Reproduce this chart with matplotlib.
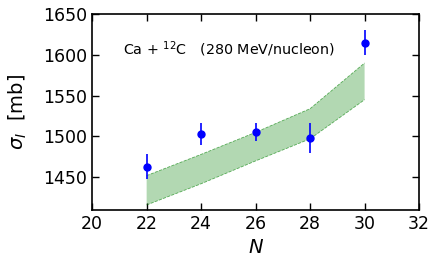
import numpy as np
import matplotlib
matplotlib.use("Agg")
import matplotlib.pyplot as plt

# data
N = [22, 24, 26, 28, 30]
sigma = [1463, 1503, 1505, 1498, 1615]
sigma_err = [15, 13, 11, 18, 15]

band_N = [22, 24, 26, 28, 30]
band_low = [1416, 1442, 1470, 1497, 1545]
band_high = [1452, 1478, 1505, 1534, 1590]

fig = plt.figure(figsize=(4.43, 2.64), dpi=100)
ax = fig.add_axes([0.208, 0.205, 0.738, 0.742])

ax.fill_between(band_N, band_low, band_high, facecolor="green", alpha=0.3,
                edgecolor="none")
ax.plot(band_N, band_low, "--", color="green", lw=0.6, alpha=0.6)
ax.plot(band_N, band_high, "--", color="green", lw=0.6, alpha=0.6)
ax.errorbar(N, sigma, yerr=sigma_err, fmt="o", color="blue", ms=5, elinewidth=1.2)

ax.text(21.15, 1607, r"Ca + $^{12}$C   (280 MeV/nucleon)", fontsize=10.3, va="center")

ax.set_xlim(20, 32)
ax.set_ylim(1410, 1650)
ax.set_xticks([20, 22, 24, 26, 28, 30, 32])
ax.set_yticks([1450, 1500, 1550, 1600, 1650])
ax.tick_params(direction="in", top=True, right=True, labelsize=12.5, length=5, width=1)
for s in ax.spines.values():
    s.set_linewidth(1.2)
ax.set_xlabel(r"$N$", fontsize=14, labelpad=4)
ax.set_ylabel(r"$\sigma_I$  [mb]", fontsize=14, labelpad=10)

fig.savefig("out.png", dpi=100)
